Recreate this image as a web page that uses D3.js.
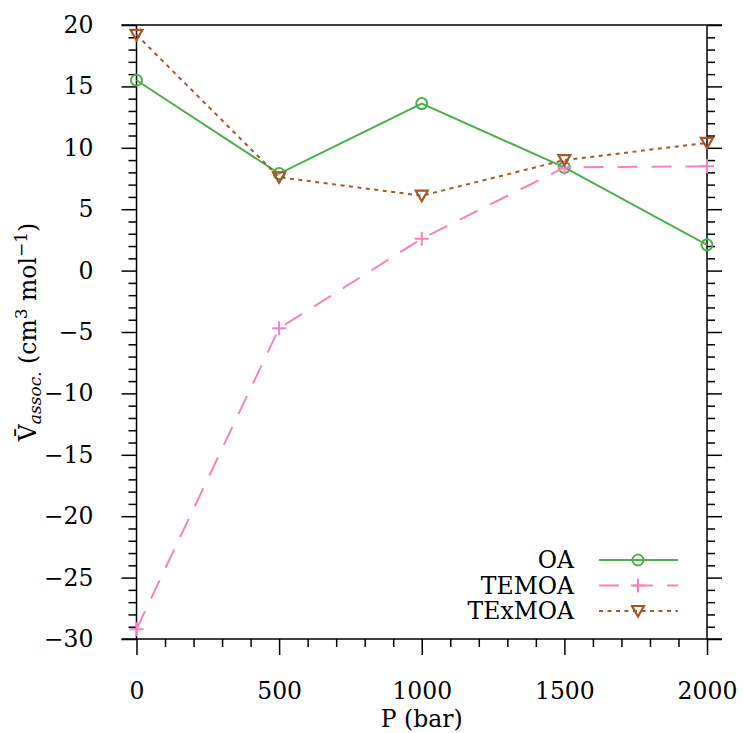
<!DOCTYPE html>
<html>
<head>
<meta charset="utf-8">
<script src="https://cdn.jsdelivr.net/npm/d3@7"></script>
<style>
  html, body { margin: 0; padding: 0; background: #fff; }
  svg { display: block; }
  text { font-family: "DejaVu Serif", serif; fill: #000; }
</style>
</head>
<body>
<svg id="chart" width="743" height="733"></svg>
<script>
// ---- data ----
const pressures = [0, 500, 1000, 1500, 2000];
const oa     = [15.5, 7.9, 13.6, 8.4, 2.1];
const temoa  = [-29.2, -4.7, 2.6, 8.4, 8.5];
const texmoa = [19.2, 7.6, 6.1, 9.0, 10.4];
const seriesNames = ["OA", "TEMOA", "TExMOA"];
const xTicks = [0, 500, 1000, 1500, 2000];
const yTicks = [20, 15, 10, 5, 0, -5, -10, -15, -20, -25, -30];

// ---- layout ----
const W = 743, H = 733;
const L = 136.5, R = 707, T = 25, B = 639;
const fs = 23.5;
const svg = d3.select("#chart");

const x = d3.scaleLinear().domain([0, 2000]).range([L, R]);
const y = d3.scaleLinear().domain([-30, 20]).range([B, T]);

const xMinor = d3.range(0, 2001, 100).filter(v => v % 500 !== 0);
const yMinor = d3.range(-30, 21, 1).filter(v => v % 5 !== 0);

function styleAxis(g) {
  g.select(".domain").remove();
  g.selectAll(".tick line").attr("stroke", "#000").attr("stroke-width", 1.5);
}

// bottom axis
svg.append("g").attr("transform", `translate(0,${B})`)
  .call(d3.axisBottom(x).tickValues(xMinor).tickSize(8).tickFormat(""))
  .call(styleAxis);
const gx = svg.append("g").attr("transform", `translate(0,${B})`)
  .call(d3.axisBottom(x).tickValues(xTicks).tickSize(16).tickPadding(27).tickFormat(d3.format("d")))
  .call(styleAxis);
gx.selectAll("text").attr("font-size", fs).attr("font-family", "DejaVu Serif").attr("fill", "#000");

// left axis
svg.append("g").attr("transform", `translate(${L},0)`)
  .call(d3.axisLeft(y).tickValues(yMinor).tickSize(8).tickFormat(""))
  .call(styleAxis);
const gy = svg.append("g").attr("transform", `translate(${L},0)`)
  .call(d3.axisLeft(y).tickValues(yTicks).tickSize(15).tickPadding(28).tickFormat(d3.format("d")))
  .call(styleAxis);
gy.selectAll("text").attr("font-size", fs).attr("font-family", "DejaVu Serif").attr("fill", "#000");

// right axis
svg.append("g").attr("transform", `translate(${R},0)`)
  .call(d3.axisRight(y).tickValues(yMinor).tickSize(8).tickFormat(""))
  .call(styleAxis);
svg.append("g").attr("transform", `translate(${R},0)`)
  .call(d3.axisRight(y).tickValues(yTicks).tickSize(15).tickFormat(""))
  .call(styleAxis);

// frame
const frame = svg.append("g").attr("stroke", "#000").attr("stroke-width", 1.5);
frame.append("line").attr("x1", L - 15).attr("x2", R + 15).attr("y1", T).attr("y2", T);
frame.append("line").attr("x1", L - 15).attr("x2", R + 15).attr("y1", B).attr("y2", B);
frame.append("line").attr("x1", L).attr("x2", L).attr("y1", T).attr("y2", B);
frame.append("line").attr("x1", R).attr("x2", R).attr("y1", T).attr("y2", B);

// series
const colors = ["#4daf4a", "#f781bf", "#a65628"];
const dashes = [null, "20,14", "4,4.5"];
const allSeries = [oa, temoa, texmoa];
const line = d3.line().x((d, i) => x(pressures[i])).y(d => y(d));

function marker(g, type, cx, cy, color) {
  if (type === 0) {
    g.append("circle").attr("cx", cx).attr("cy", cy).attr("r", 5.5)
      .attr("fill", "none").attr("stroke", color).attr("stroke-width", 2);
  } else if (type === 1) {
    g.append("path").attr("d", `M${cx-7},${cy}H${cx+7}M${cx},${cy-7}V${cy+7}`)
      .attr("stroke", color).attr("stroke-width", 2);
  } else {
    g.append("path").attr("d", `M${cx-6},${cy-5}L${cx+6},${cy-5}L${cx},${cy+5.5}Z`)
      .attr("fill", "none").attr("stroke", color).attr("stroke-width", 2.2);
  }
}

allSeries.forEach((s, k) => {
  const g = svg.append("g");
  g.append("path").datum(s).attr("d", line)
    .attr("fill", "none").attr("stroke", colors[k]).attr("stroke-width", 2)
    .attr("stroke-dasharray", dashes[k]);
  s.forEach((v, i) => marker(g, k, x(pressures[i]), y(v), colors[k]));
});

// legend
const legY = [560, 585.5, 611];
seriesNames.forEach((name, k) => {
  const g = svg.append("g");
  g.append("text").attr("x", 574).attr("y", legY[k]).attr("dy", "0.36em")
    .attr("text-anchor", "end").attr("font-size", fs).text(name);
  g.append("line").attr("x1", 599).attr("x2", 678).attr("y1", legY[k]).attr("y2", legY[k])
    .attr("stroke", colors[k]).attr("stroke-width", 2).attr("stroke-dasharray", dashes[k]);
  marker(g, k, 638, legY[k], colors[k]);
});

// x label
svg.append("text").attr("x", (L + R) / 2).attr("y", 727).attr("text-anchor", "middle")
  .attr("font-size", fs).text("P (bar)");

// y label
const yl = svg.append("text").attr("transform", `translate(36,${(T + B) / 2}) rotate(-90)`)
  .attr("text-anchor", "middle").attr("font-size", fs);
yl.append("tspan").text("V\u0304");
yl.append("tspan").attr("font-style", "italic").attr("font-size", 17).attr("dy", 5).text("assoc.");
yl.append("tspan").attr("dy", -5).text("  (cm");
yl.append("tspan").attr("font-size", 17).attr("dy", -9).text("3");
yl.append("tspan").attr("dy", 9).text(" mol");
yl.append("tspan").attr("font-size", 17).attr("dy", -9).text("\u22121");
yl.append("tspan").attr("dy", 9).text(")");
</script>
</body>
</html>
